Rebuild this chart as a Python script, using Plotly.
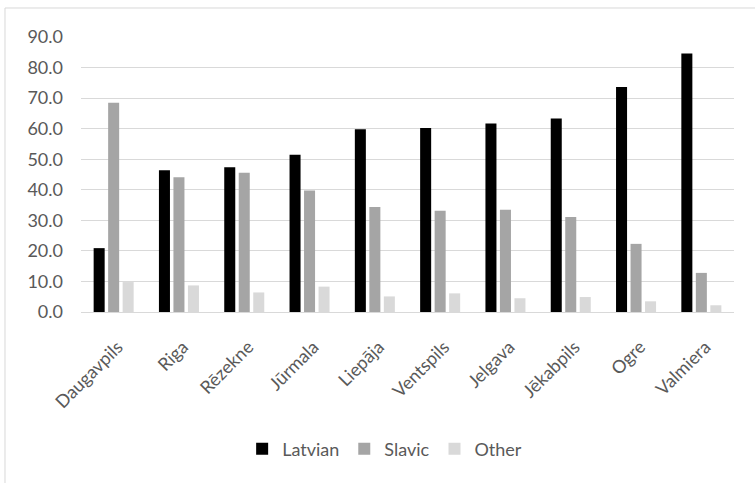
import plotly.graph_objects as go

cities = ["Daugavpils", "Riga", "Rēzekne", "Jūrmala", "Liepāja", "Ventspils",
          "Jelgava", "Jēkabpils", "Ogre", "Valmiera"]
latvian = [20.9, 46.4, 47.4, 51.5, 59.8, 60.2, 61.7, 63.3, 73.6, 84.6]
slavic = [68.5, 44.1, 45.6, 39.8, 34.4, 33.1, 33.5, 31.1, 22.3, 12.8]
other = [9.8, 8.7, 6.4, 8.3, 5.1, 6.1, 4.5, 4.9, 3.5, 2.2]
y_ticks = [0, 10, 20, 30, 40, 50, 60, 70, 80, 90]

FONT = "Lato, sans-serif"
TXT = "#595959"

fig = go.Figure()
for name, vals, col in [("Latvian", latvian, "#000000"),
                        ("Slavic", slavic, "#a5a5a5"),
                        ("Other", other, "#d9d9d9")]:
    fig.add_trace(go.Bar(x=cities, y=vals, name=name,
                         marker=dict(color=col, line=dict(width=0))))

fig.update_layout(
    width=755, height=483,
    margin=dict(l=81, r=21, t=37, b=171),
    paper_bgcolor="white", plot_bgcolor="white",
    barmode="group", bargap=0.334, bargroupgap=0.24,
    font=dict(family=FONT, size=18, color=TXT),
    showlegend=True,
    legend=dict(orientation="h", x=0.465, xanchor="center", y=-0.498, yanchor="middle",
                font=dict(family=FONT, size=18, color=TXT),
                itemwidth=30, traceorder="normal"),
    xaxis=dict(tickangle=-45, showgrid=False, showline=False, ticks="",
               ticklabelstandoff=20, ticklabelshift=4,
               tickfont=dict(family=FONT, size=18, color=TXT)),
    yaxis=dict(range=[0, 90], tickvals=y_ticks,
               ticktext=[f"{v:.1f}" for v in y_ticks],
               showgrid=True, gridcolor="#d9d9d9", gridwidth=1,
               zeroline=True, zerolinecolor="#d9d9d9", zerolinewidth=1,
               showline=False, ticks="", ticklen=0, ticklabelstandoff=17,
               tickfont=dict(family=FONT, size=18, color=TXT)),
    shapes=[
        dict(type="line", xref="paper", yref="paper", x0=-0.1164, x1=1.05,
             y0=1.1055, y1=1.1055, line=dict(color="#d9d9d9", width=1)),
        dict(type="line", xref="paper", yref="paper", x0=-0.1164, x1=-0.1164,
             y0=1.1055, y1=-0.63, line=dict(color="#d9d9d9", width=1)),
    ],
)

fig.write_html("out.html")
